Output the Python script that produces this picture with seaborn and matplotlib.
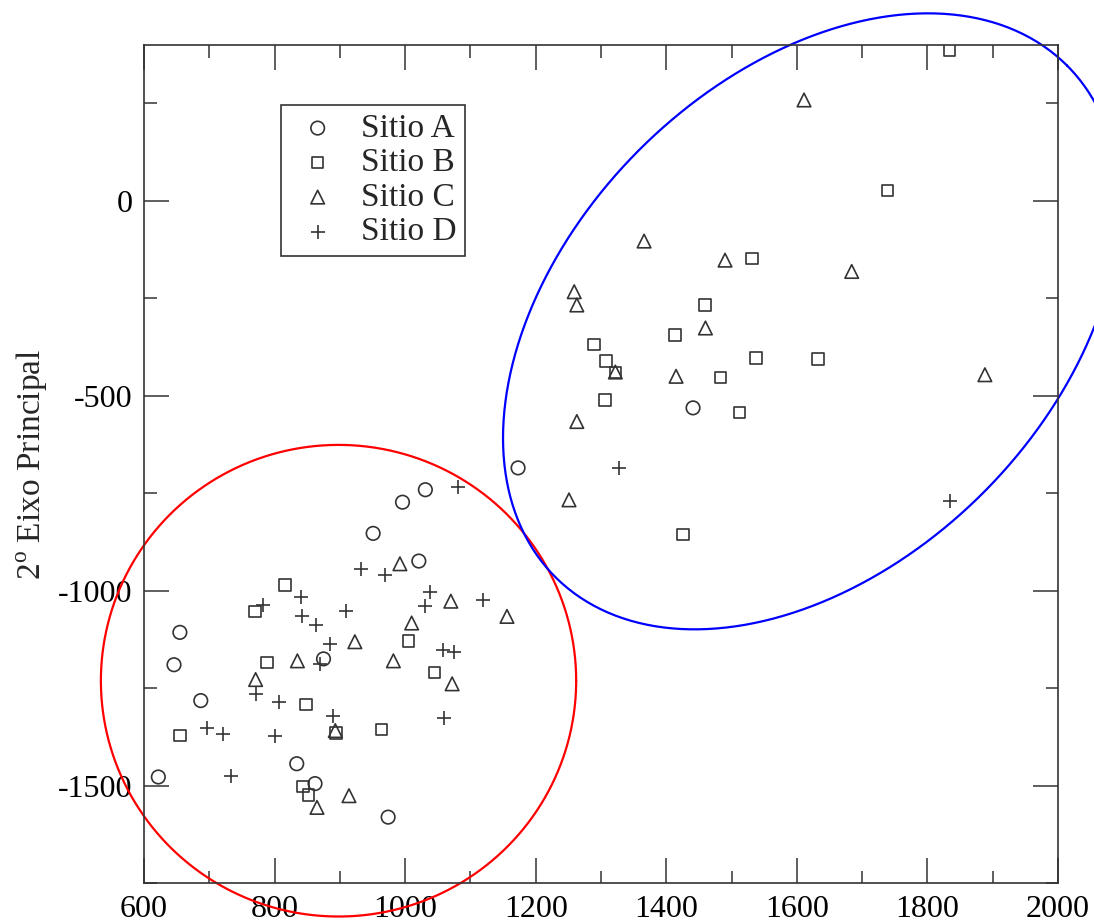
import numpy as np
import pandas as pd
import seaborn as sns
import matplotlib.pyplot as plt
from matplotlib.ticker import MultipleLocator

# pontos (1o e 2o eixo principal)
site_a_x = [1441, 1173, 1031, 996, 951, 1021, 655, 875, 646, 687, 834, 862, 622, 974]
site_a_y = [-531, -685, -741, -773, -853, -924, -1107, -1175, -1190, -1282, -1444, -1495, -1478, -1581]

site_b_x = [1834, 1739, 1531, 1459, 1413, 1289, 1308, 1322, 1537, 1632, 1483, 1306, 1512, 1426,
            816, 770, 1005, 788, 1045, 848, 655, 894, 964, 844, 852]
site_b_y = [387, 27, -148, -267, -344, -368, -410, -440, -403, -406, -453, -511, -543, -856,
            -985, -1053, -1129, -1184, -1210, -1292, -1372, -1365, -1356, -1502, -1524]

site_c_x = [1611, 1490, 1684, 1366, 1259, 1263, 1460, 1322, 1415, 1263, 1251, 1888,
            992, 1070, 1156, 1010, 923, 835, 982, 771, 1072, 893, 914, 865]
site_c_y = [259, -152, -181, -103, -233, -267, -326, -439, -450, -566, -767, -446,
            -931, -1027, -1066, -1083, -1131, -1180, -1180, -1228, -1239, -1359, -1526, -1556]

site_d_x = [1835, 1328, 1081, 933, 969, 1038, 1030, 1119, 783, 841, 910, 842, 864,
            885, 1058, 1075, 870, 771, 807, 889, 1060, 696, 721, 801, 733]
site_d_y = [-769, -685, -733, -944, -959, -1003, -1040, -1023, -1036, -1016, -1053, -1066, -1087,
            -1138, -1151, -1158, -1187, -1265, -1285, -1321, -1327, -1353, -1369, -1372, -1476]

site_names = ["Sitio A", "Sitio B", "Sitio C", "Sitio D"]

# grupos marcados com elipses
red_center = (898, -1231)
red_radii = (364, 605)
blue_center = (1622, -309)
blue_u = (392, 656)
blue_v = (-263, 440.6)

sns.set_theme(style="ticks")
plt.rcParams["font.family"] = ["Liberation Serif", "DejaVu Serif"]
plt.rcParams["mathtext.fontset"] = "custom"
plt.rcParams["mathtext.rm"] = "Liberation Serif"
plt.rcParams["axes.unicode_minus"] = False

df = pd.concat([
    pd.DataFrame({"x": site_a_x, "y": site_a_y, "site": site_names[0]}),
    pd.DataFrame({"x": site_b_x, "y": site_b_y, "site": site_names[1]}),
    pd.DataFrame({"x": site_c_x, "y": site_c_y, "site": site_names[2]}),
    pd.DataFrame({"x": site_d_x, "y": site_d_y, "site": site_names[3]}),
])

fig = plt.figure(figsize=(10.94, 9.22), dpi=100)
ax = fig.add_axes([0.1316, 0.0423, 0.8355, 0.9089])

ink = "#333333"
markers = {"Sitio A": ("o", 95), "Sitio B": ("s", 70), "Sitio C": ("^", 95), "Sitio D": ("+", 100)}
for name in site_names:
    m, s = markers[name]
    sub = df[df["site"] == name]
    if m == "+":
        sns.scatterplot(data=sub, x="x", y="y", marker=m, s=s, color=ink,
                        linewidth=1.2, ax=ax, label=name)
    else:
        sns.scatterplot(data=sub, x="x", y="y", marker=m, s=s, color=ink,
                        facecolor="none", edgecolor=ink, linewidth=1.2, ax=ax, label=name)

t = np.linspace(0, 2 * np.pi, 400)
ax.plot(red_center[0] + red_radii[0] * np.cos(t), red_center[1] + red_radii[1] * np.sin(t),
        color="red", lw=1.6, clip_on=False)
ax.plot(blue_center[0] + blue_u[0] * np.cos(t) + blue_v[0] * np.sin(t),
        blue_center[1] + blue_u[1] * np.cos(t) + blue_v[1] * np.sin(t),
        color="blue", lw=1.6, clip_on=False)

ax.set_xlim(600, 2000)
ax.set_ylim(-1750, 400)
ax.xaxis.set_major_locator(MultipleLocator(200))
ax.xaxis.set_minor_locator(MultipleLocator(100))
ax.yaxis.set_major_locator(MultipleLocator(500))
ax.yaxis.set_minor_locator(MultipleLocator(250))
ax.tick_params(which="both", direction="in", top=True, right=True, color=ink, width=1.1,
               labelsize=23, labelcolor="black")
ax.tick_params(which="major", length=18)
ax.tick_params(which="minor", length=9)
ax.tick_params(axis="x", which="major", pad=9)
ax.tick_params(axis="y", which="major", pad=8)
for sp in ax.spines.values():
    sp.set_color(ink)
    sp.set_linewidth(1.2)

ax.set_xlabel("")
ax.set_ylabel(r"2$^{\mathrm{o}}$ Eixo Principal", fontsize=24, labelpad=6)

leg = ax.legend(loc="upper left", bbox_to_anchor=(0.1499, 0.9284), borderaxespad=0,
                fancybox=False, edgecolor=ink, framealpha=1, fontsize=24, markerscale=1.0,
                handletextpad=0.45, labelspacing=0.12, borderpad=0.25, handlelength=1.7)
leg.get_frame().set_linewidth(1.2)

fig.savefig("out.png", dpi=100)
